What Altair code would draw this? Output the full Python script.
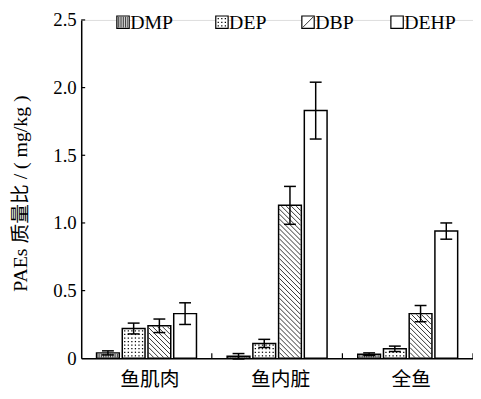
import altair as alt
import pandas as pd
import numpy as np

groups = ["鱼肌肉", "鱼内脏", "全鱼"]
series = ["DMP", "DEP", "DBP", "DEHP"]
means = {
    "DMP": [0.04, 0.015, 0.03],
    "DEP": [0.22, 0.11, 0.07],
    "DBP": [0.24, 1.13, 0.33],
    "DEHP": [0.33, 1.83, 0.94],
}
errs = {
    "DMP": [0.015, 0.02, 0.01],
    "DEP": [0.04, 0.03, 0.02],
    "DBP": [0.05, 0.14, 0.06],
    "DEHP": [0.08, 0.21, 0.06],
}
y_ticks = [0, 0.5, 1.0, 1.5, 2.0, 2.5]
y_title = "PAEs 质量比 / ( mg/kg )"

W, H = 396, 342
XMAX, YMAX = 3.0, 2.5
PX = W / XMAX   # px per x unit
PY = H / YMAX   # px per y unit
BAR_W, GAP = 23, 3
FONT = "Liberation Serif, Noto Sans CJK SC"

bars, segs, dots, ebars, caps = [], [], [], [], []


def pattern(kind, L, R, B, T, out_segs, out_dots, legend=False):
    """L,R,B,T in px (y up from baseline). Appends segments/dots in data units."""
    if kind == "DMP":
        x = L + 1.5
        while x < R - 1:
            out_segs.append((x / PX, (B + 0.8) / PY, x / PX, (T - 0.8) / PY))
            x += 1.8
    elif kind == "DEP":
        y = B + 2.5
        while y < T - 1.2:
            x = L + 2.5
            while x < R - 1.2:
                out_dots.append((x / PX, y / PY))
                x += 3.6
            y += 3.6
    elif kind == "DBP":
        if legend:
            out_segs.append(((L + 1) / PX, (B + 1) / PY, (R - 1) / PX, (T - 1) / PY))
        else:
            Ti, Bi, Li, Ri = T - 0.8, B + 0.8, L + 0.8, R - 0.8
            hgt = Ti - Bi
            c = Li + 5
            while c < Ri + hgt:
                k = c - Li
                x0 = max(Li, Li + k - hgt)
                x1 = min(Ri, Li + k)
                if x1 > x0:
                    y0 = Bi + k - (x0 - Li)
                    y1 = Bi + k - (x1 - Li)
                    out_segs.append((x0 / PX, y0 / PY, x1 / PX, y1 / PY))
                c += 5


for gi, g in enumerate(groups):
    center_px = (gi + 0.5) * PX
    total = 4 * BAR_W + 3 * GAP
    for si, s in enumerate(series):
        L = center_px - total / 2 + si * (BAR_W + GAP)
        R = L + BAR_W
        m = means[s][gi]
        e = errs[s][gi]
        bars.append({"x": L / PX, "x2": R / PX, "y": 0, "y2": m, "s": s})
        pattern(s, L, R, 0, m * PY, segs, dots)
        c = (L + R) / 2
        ebars.append({"x": c / PX, "y": m - e, "y2": m + e})
        for v in (m - e, m + e):
            caps.append({"x": (c - 6) / PX, "x2": (c + 6) / PX, "y": v})

# ---------- legend (pixel layout converted to data units) ----------
leg_x = [36, 136, 223, 313]
leg_top, leg_size = -4, 12.5
leg_boxes, leg_text = [], []
for s, lx in zip(series, leg_x):
    T = H - leg_top
    B = T - leg_size
    leg_boxes.append({"x": lx / PX, "x2": (lx + leg_size) / PX, "y": B / PY, "y2": T / PY})
    pattern(s, lx, lx + leg_size, B, T, segs, dots, legend=True)
    leg_text.append({"x": (lx + leg_size + 1) / PX, "y": (B + T) / 2 / PY, "t": s})

bars_df = pd.DataFrame(bars)
segs_df = pd.DataFrame(segs, columns=["x", "y", "x2", "y2"])
dots_df = pd.DataFrame(dots, columns=["x", "y"])
eb_df = pd.DataFrame(ebars)
cap_df = pd.DataFrame(caps)
lb_df = pd.DataFrame(leg_boxes)
lt_df = pd.DataFrame(leg_text)
ytick_df = pd.DataFrame({"y": y_ticks[1:], "x": 0.0, "x2": 4 / PX})
xtick_df = pd.DataFrame({"x": [1.0, 2.0, 3.0], "y": 0.0, "y2": 5 / PY})

xs = alt.Scale(domain=[0, XMAX], nice=False, zero=False)
ys = alt.Scale(domain=[0, YMAX], nice=False)

label_expr = " : ".join(
    [f"datum.value == {i + 0.5} ? '{g}'" for i, g in enumerate(groups)]
) + " : ''"

base_x = alt.X(
    "x:Q", scale=xs,
    axis=alt.Axis(values=[0.5, 1.5, 2.5], labelExpr=label_expr, ticks=False, grid=False,
                  title=None, domainColor="black", domainWidth=1.5,
                  labelFont="Noto Sans CJK SC", labelFontSize=20, labelColor="black",
                  labelPadding=11, labelOffset=3),
)
base_y = alt.Y(
    "y:Q", scale=ys,
    axis=alt.Axis(values=y_ticks, ticks=False, grid=False,
                  labelExpr="datum.value == 0 ? '0' : format(datum.value, '.1f')",
                  title=y_title, titleFont=FONT, titleFontSize=20, titleFontWeight="normal",
                  titleColor="black", titlePadding=23, titleY=175,
                  domainColor="black", domainWidth=1.5,
                  labelFont="Liberation Serif", labelFontSize=19, labelColor="black",
                  labelPadding=5),
)

bar_layer = alt.Chart(bars_df).mark_rect(fill="white", stroke="black", strokeWidth=1.5).encode(
    x=base_x, x2="x2:Q", y=base_y, y2="y2:Q")
seg_layer = alt.Chart(segs_df).mark_rule(color="black", strokeWidth=0.8).encode(
    x="x:Q", y="y:Q", x2="x2:Q", y2="y2:Q")
dot_layer = alt.Chart(dots_df).mark_square(color="black", size=1.6, opacity=1).encode(
    x="x:Q", y="y:Q")
eb_layer = alt.Chart(eb_df).mark_rule(color="black", strokeWidth=1.5).encode(
    x="x:Q", y="y:Q", y2="y2:Q")
cap_layer = alt.Chart(cap_df).mark_rule(color="black", strokeWidth=1.5).encode(
    x="x:Q", x2="x2:Q", y="y:Q")
yt_layer = alt.Chart(ytick_df).mark_rule(color="black", strokeWidth=1.2).encode(
    x="x:Q", x2="x2:Q", y="y:Q")
xt_layer = alt.Chart(xtick_df).mark_rule(color="black", strokeWidth=1.2).encode(
    x="x:Q", y="y:Q", y2="y2:Q")
lb_layer = alt.Chart(lb_df).mark_rect(fill="white", stroke="black", strokeWidth=1.2).encode(
    x="x:Q", x2="x2:Q", y="y:Q", y2="y2:Q")
lt_layer = alt.Chart(lt_df).mark_text(align="left", baseline="middle", font="Liberation Serif",
                                       fontSize=20, color="black", dy=1).encode(
    x="x:Q", y="y:Q", text="t:N")

chart = alt.layer(
    bar_layer, lb_layer, seg_layer, dot_layer, eb_layer, cap_layer, yt_layer, xt_layer, lt_layer
).properties(
    width=W, height=H,
    autosize=alt.AutoSizeParams(type="none"),
    padding={"left": 74, "top": 10, "right": 0, "bottom": 31},
).configure_view(stroke=None).configure(background="white")

chart.save("out.html", embed_options={"renderer": "svg", "actions": False})
